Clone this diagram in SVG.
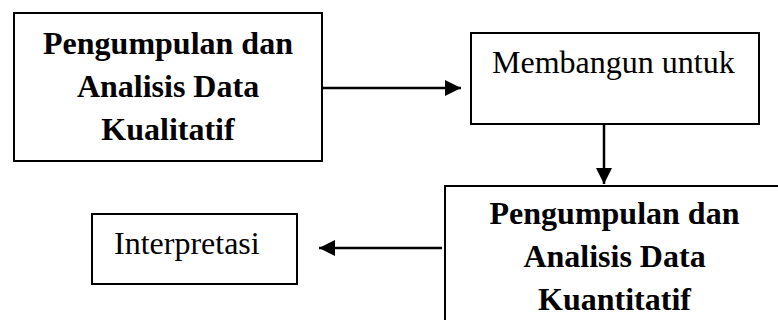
<svg xmlns="http://www.w3.org/2000/svg" width="778" height="320" viewBox="0 0 778 320">
<defs>
<style>
.box{fill:#fff;stroke:#000;stroke-width:2}
.b{font-family:"Liberation Serif","Times New Roman",serif;font-size:32px;font-weight:bold;fill:#000;text-anchor:middle}
.r{font-family:"Liberation Serif","Times New Roman",serif;font-size:32px;fill:#000}
.c{stroke:#000;stroke-width:2.5;fill:none}
</style>
<marker id="ah" viewBox="0 0 16 16" refX="16" refY="8" markerWidth="16" markerHeight="16" markerUnits="userSpaceOnUse" orient="auto">
<path d="M0,0 L16,8 L0,16 Z" fill="#000"/>
</marker>
</defs>
<rect width="778" height="320" fill="#fff"/>
<g id="node-kualitatif">
<rect class="box" x="14" y="13" width="308" height="148"/>
<text class="b" x="168" y="54">Pengumpulan dan</text>
<text class="b" x="168" y="97">Analisis Data</text>
<text class="b" x="168" y="140">Kualitatif</text>
</g>
<g id="node-membangun">
<rect class="box" x="471" y="33" width="288" height="91"/>
<text class="r" x="492" y="73">Membangun untuk</text>
</g>
<g id="node-kuantitatif">
<rect class="box" x="445" y="186" width="350" height="160"/>
<text class="b" x="614.5" y="224">Pengumpulan dan</text>
<text class="b" x="614.5" y="267">Analisis Data</text>
<text class="b" x="614.5" y="310">Kuantitatif</text>
</g>
<g id="node-interpretasi">
<rect class="box" x="92" y="214" width="205" height="70"/>
<text class="r" x="114" y="254">Interpretasi</text>
</g>
<g id="connectors">
<line class="c" x1="322" y1="88" x2="461" y2="88" marker-end="url(#ah)"/>
<line class="c" x1="604" y1="124" x2="604" y2="184" marker-end="url(#ah)"/>
<line class="c" x1="442" y1="248" x2="319" y2="248" marker-end="url(#ah)"/>
</g>
</svg>
